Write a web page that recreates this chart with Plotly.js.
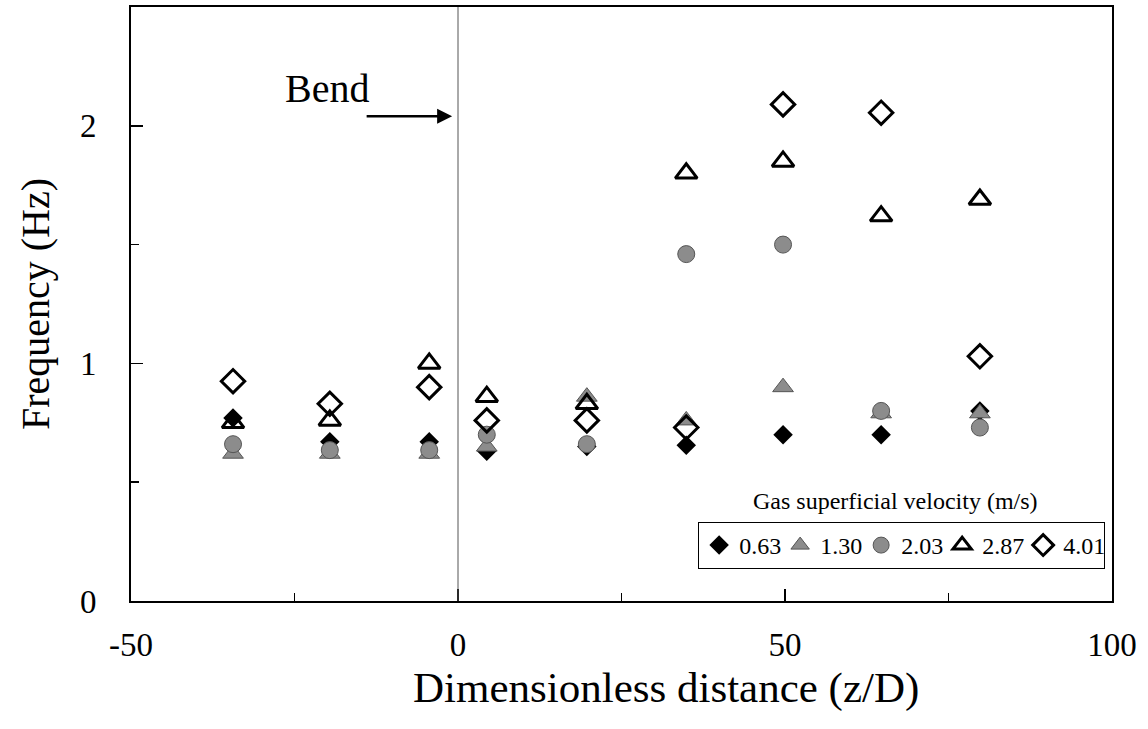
<!DOCTYPE html>
<html>
<head>
<meta charset="utf-8">
<script src="https://cdn.plot.ly/plotly-3.0.1.min.js"></script>
<style>html,body{margin:0;padding:0;background:#fff;}#chart{width:1148px;height:729px;}</style>
</head>
<body>
<div id="chart"></div>
<script>
// Dimensionless distance (z/D) of measuring stations
const positions = [-34.4, -19.6, -4.4, 4.4, 19.7, 34.9, 49.7, 64.7, 79.8];
// Gas superficial velocity labels (m/s)
const seriesNames = ['0.63', '1.30', '2.03', '2.87', '4.01'];
// Frequency (Hz) per series
const freq063 = [0.77, 0.67, 0.67, 0.63, 0.65, 0.655, 0.70, 0.70, 0.80];
const freq130 = [0.62, 0.62, 0.62, 0.65, 0.86, 0.76, 0.90, 0.79, 0.79];
const freq203 = [0.66, 0.635, 0.635, 0.70, 0.66, 1.46, 1.50, 0.80, 0.73];
const freq287 = [0.75, 0.76, 1.00, 0.86, 0.83, 1.80, 1.85, 1.62, 1.69];
const freq401 = [0.925, 0.83, 0.90, 0.76, 0.76, 0.73, 2.09, 2.055, 1.03];
// Axis tick labels
const xTickVals = [-50, 0, 50, 100];
const xTickText = ['-50', '0', '50', '100'];
const yTickVals = [0, 1, 2];
const yTickText = ['0', '1', '2'];

const serif = 'Liberation Serif, Times New Roman, serif';
const gray = '#8c8c8c';

const traces = [
  {y: freq063, marker: {symbol: 'diamond', size: 15, color: '#000', line: {width: 0}}},
  {y: freq130, marker: {symbol: 'triangle-up', size: 18, color: gray, line: {width: 1, color: '#555'}}},
  {y: freq203, marker: {symbol: 'circle', size: 17, color: gray, line: {width: 1, color: '#555'}}},
  {y: freq287, marker: {symbol: 'triangle-up-open', size: 19, color: '#000', line: {width: 3, color: '#000'}}},
  {y: freq401, marker: {symbol: 'diamond-open', size: 18, color: '#000', line: {width: 3, color: '#000'}}}
].map((t, i) => Object.assign({
  type: 'scatter', mode: 'markers', x: positions, name: seriesNames[i], cliponaxis: false
}, t));

const layout = {
  width: 1148, height: 729,
  margin: {l: 131, r: 36, t: 7, b: 128},
  paper_bgcolor: '#fff', plot_bgcolor: '#fff',
  font: {family: serif, color: '#000'},
  showlegend: true,
  legend: {
    orientation: 'h', x: 0.993, y: 0.133, xanchor: 'right', yanchor: 'top',
    bordercolor: '#000', borderwidth: 1, bgcolor: '#fff',
    font: {family: serif, size: 24, color: '#000'},
    itemwidth: 30, entrywidth: 36
  },
  xaxis: {
    range: [-50, 100], tickmode: 'array', tickvals: xTickVals, ticktext: xTickText,
    ticks: 'inside', ticklen: 12, tickwidth: 1.5, tickcolor: '#000',
    minor: {dtick: 25, ticks: 'inside', ticklen: 8, tickwidth: 1.5, tickcolor: '#000'},
    showline: true, linecolor: '#000', linewidth: 2, mirror: true,
    showgrid: false, zeroline: false,
    tickfont: {family: serif, size: 33, color: '#000'},
    ticklabelstandoff: 13
  },
  yaxis: {
    range: [0, 2.5], tickmode: 'array', tickvals: yTickVals, ticktext: yTickText,
    ticks: 'inside', ticklen: 12, tickwidth: 1.5, tickcolor: '#000',
    minor: {dtick: 0.5, ticks: 'inside', ticklen: 8, tickwidth: 1.5, tickcolor: '#000'},
    showline: true, linecolor: '#000', linewidth: 2, mirror: true,
    showgrid: false, zeroline: false,
    tickfont: {family: serif, size: 33, color: '#000'},
    ticklabelstandoff: 26,
    title: {text: 'Frequency (Hz)', font: {family: serif, size: 40, color: '#000'}, standoff: 18}
  },
  shapes: [
    {type: 'line', xref: 'x', yref: 'paper', x0: 0, x1: 0, y0: 0, y1: 1, line: {color: '#555', width: 1}}
  ],
  annotations: [
    {xref: 'paper', yref: 'paper', x: 0.545, y: -0.146, yanchor: 'middle', xanchor: 'center', showarrow: false,
     text: 'Dimensionless distance (z/D)', font: {family: serif, size: 43, color: '#000'}},
    {xref: 'paper', yref: 'paper', x: 0.779, y: 0.168, xanchor: 'center', yanchor: 'middle', showarrow: false,
     text: 'Gas superficial velocity (m/s)', font: {family: serif, size: 24, color: '#000'}},
    {xref: 'x', yref: 'y', x: -20, y: 2.155, showarrow: false, text: 'Bend',
     font: {family: serif, size: 40, color: '#000'}},
    {xref: 'x', yref: 'y', x: -0.9, y: 2.04, axref: 'x', ayref: 'y', ax: -14.2, ay: 2.04,
     text: '', showarrow: true, arrowhead: 2, arrowsize: 1.2, arrowwidth: 2.5, arrowcolor: '#000'}
  ]
};

Plotly.newPlot('chart', traces, layout, {displayModeBar: false, staticPlot: true});
</script>
</body>
</html>
